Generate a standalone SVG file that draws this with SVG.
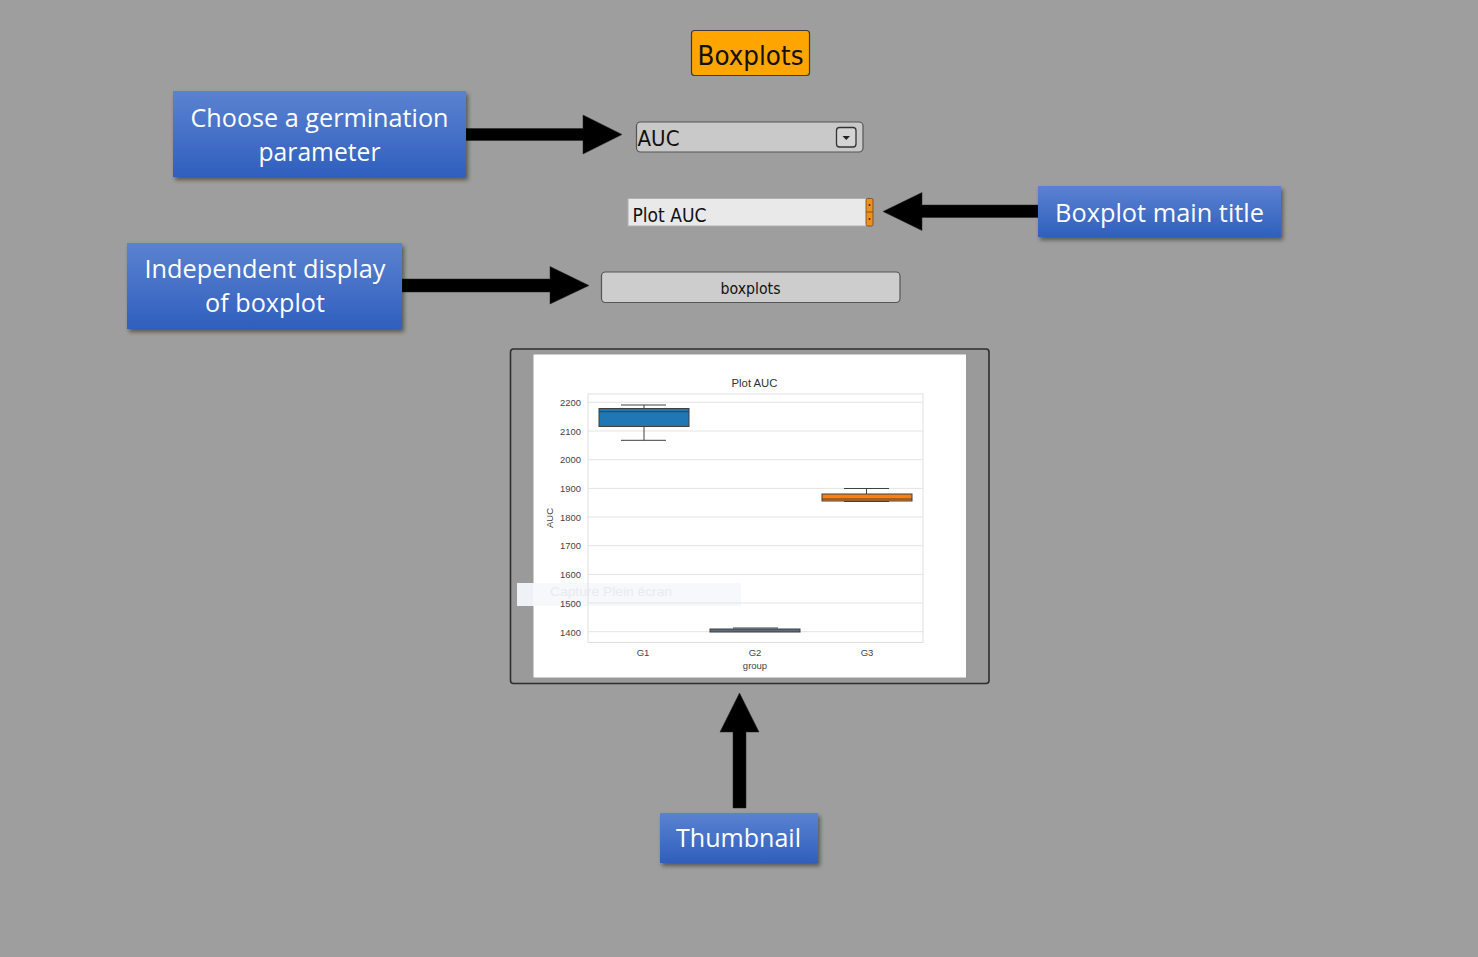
<svg xmlns="http://www.w3.org/2000/svg" width="1478" height="957" viewBox="0 0 1478 957">
<defs>
<linearGradient id="blueGrad" x1="0" y1="0" x2="0" y2="1">
<stop offset="0" stop-color="#5b82d1"/>
<stop offset="1" stop-color="#2f5fbd"/>
</linearGradient>
<filter id="shadow" x="-10%" y="-20%" width="130%" height="150%">
<feDropShadow dx="2" dy="3" stdDeviation="2" flood-color="#000" flood-opacity="0.45"/>
</filter>
</defs>
<style>
.blue{fill:url(#blueGrad);filter:url(#shadow);}
.lbl{font-family:"Open Sans","Noto Sans","DejaVu Sans",sans-serif;font-size:26px;fill:#ffffff;text-anchor:middle;}
.arrow{fill:#000000;stroke:#222;stroke-width:0.5;}
.ui{font-family:"DejaVu Sans","Liberation Sans",sans-serif;fill:#111;}
.tick{font-family:"Liberation Sans",Arial,sans-serif;font-size:9.5px;fill:#444;}
.grid{stroke:#e3e3e3;stroke-width:1;}
.box{stroke:#404040;stroke-width:1;}
.wh{stroke:#404040;stroke-width:1;fill:none;}
</style>
<rect x="0" y="0" width="1478" height="957" fill="#9e9e9e"/>

<g id="title">
<rect x="691.5" y="30.5" width="118" height="45" rx="3" fill="#ffa500" stroke="#3a3a3a" stroke-width="1.2"/>
<text class="ui" x="750.5" y="65" font-size="27" text-anchor="middle" textLength="106" lengthAdjust="spacingAndGlyphs">Boxplots</text>
</g>

<g id="dropdown">
<rect x="636.5" y="122" width="226.5" height="30" rx="4" fill="#c9c9c9" stroke="#555" stroke-width="1.2"/>
<text class="ui" x="637.5" y="146" font-size="22" textLength="42" lengthAdjust="spacingAndGlyphs">AUC</text>
<rect x="836.5" y="127.5" width="19.5" height="19.5" rx="3" fill="#d4d4d4" stroke="#333" stroke-width="1.3"/>
<polygon points="842.5,136 850,136 846.25,140" fill="#222"/>
</g>

<g id="titleField">
<rect x="628" y="198.5" width="239" height="27.5" fill="#e9e9e9" stroke="#b0b0b0" stroke-width="1"/>
<text class="ui" x="632.5" y="221.5" font-size="20" textLength="74" lengthAdjust="spacingAndGlyphs">Plot AUC</text>
<rect x="866" y="198.5" width="7" height="27.5" rx="1.5" fill="#f0901a" stroke="#6a4a1a" stroke-width="0.8"/>
<line x1="866" y1="212" x2="873" y2="212" stroke="#6a4a1a" stroke-width="0.8"/>
<circle cx="869.5" cy="205" r="1" fill="#333"/>
<circle cx="869.5" cy="219" r="1" fill="#333"/>
</g>

<g id="boxplotsButton">
<rect x="601.5" y="272" width="298.5" height="30.5" rx="4" fill="#cdcdcd" stroke="#555" stroke-width="1.2"/>
<text class="ui" x="750.5" y="293.5" font-size="15" fill="#222" text-anchor="middle" textLength="60" lengthAdjust="spacingAndGlyphs">boxplots</text>
</g>

<g id="thumbnail">
<rect x="510.5" y="349" width="478.5" height="334.5" rx="3" fill="#9a9a9a" stroke="#2e2e2e" stroke-width="1.6"/>
<rect x="533.5" y="354.5" width="432.5" height="323" fill="#ffffff"/>
<rect x="517" y="583" width="224" height="23" fill="#f6f8fb"/>
<rect x="517" y="583" width="16" height="23" fill="#eef1f6"/>
<text x="550" y="596" font-family="Liberation Sans,Arial,sans-serif" font-size="12.5" fill="#e6ebf2" textLength="122" lengthAdjust="spacingAndGlyphs">Capture Plein écran</text>
<text x="754.5" y="387" font-family="Liberation Sans,Arial,sans-serif" font-size="10.5" fill="#333" text-anchor="middle" textLength="46" lengthAdjust="spacingAndGlyphs">Plot AUC</text>
<rect x="588" y="394" width="335" height="248.5" fill="none" stroke="#e0e0e0" stroke-width="1"/>
<line class="grid" x1="588" y1="402.3" x2="923" y2="402.3"/>
<line class="grid" x1="588" y1="431" x2="923" y2="431"/>
<line class="grid" x1="588" y1="459.7" x2="923" y2="459.7"/>
<line class="grid" x1="588" y1="488.4" x2="923" y2="488.4"/>
<line class="grid" x1="588" y1="517" x2="923" y2="517"/>
<line class="grid" x1="588" y1="545.7" x2="923" y2="545.7"/>
<line class="grid" x1="588" y1="574.4" x2="923" y2="574.4"/>
<line class="grid" x1="588" y1="603" x2="923" y2="603"/>
<line class="grid" x1="588" y1="631.7" x2="923" y2="631.7"/>
<g text-anchor="end">
<text class="tick" x="581" y="405.5" textLength="21" lengthAdjust="spacingAndGlyphs">2200</text>
<text class="tick" x="581" y="434.5" textLength="21" lengthAdjust="spacingAndGlyphs">2100</text>
<text class="tick" x="581" y="463" textLength="21" lengthAdjust="spacingAndGlyphs">2000</text>
<text class="tick" x="581" y="492" textLength="21" lengthAdjust="spacingAndGlyphs">1900</text>
<text class="tick" x="581" y="520.5" textLength="21" lengthAdjust="spacingAndGlyphs">1800</text>
<text class="tick" x="581" y="549" textLength="21" lengthAdjust="spacingAndGlyphs">1700</text>
<text class="tick" x="581" y="578" textLength="21" lengthAdjust="spacingAndGlyphs">1600</text>
<text class="tick" x="581" y="606.5" textLength="21" lengthAdjust="spacingAndGlyphs">1500</text>
<text class="tick" x="581" y="635.5" textLength="21" lengthAdjust="spacingAndGlyphs">1400</text>
</g>
<text class="tick" transform="translate(552.5,518) rotate(-90)" text-anchor="middle">AUC</text>
<text class="tick" x="643" y="656" text-anchor="middle">G1</text>
<text class="tick" x="755" y="656" text-anchor="middle">G2</text>
<text class="tick" x="867" y="656" text-anchor="middle">G3</text>
<text class="tick" x="755" y="669" text-anchor="middle">group</text>
<!-- G1 -->
<line class="wh" x1="644" y1="405" x2="644" y2="408.5"/>
<line class="wh" x1="644" y1="426.5" x2="644" y2="440.3"/>
<line class="wh" x1="621" y1="405" x2="666" y2="405"/>
<line class="wh" x1="621" y1="440.3" x2="666" y2="440.3"/>
<rect class="box" x="599" y="408.5" width="90" height="18" fill="#1f77b4"/>
<line class="wh" x1="599" y1="411.7" x2="689" y2="411.7"/>
<!-- G2 -->
<line class="wh" x1="733" y1="628" x2="778" y2="628"/>
<rect class="box" x="710" y="629" width="90" height="3" fill="#5a6b84"/>
<!-- G3 -->
<line class="wh" x1="866.5" y1="488.5" x2="866.5" y2="494"/>
<line class="wh" x1="844" y1="488.5" x2="889" y2="488.5"/>
<line class="wh" x1="844" y1="501.5" x2="889" y2="501.5"/>
<rect class="box" x="822" y="494" width="90" height="7" fill="#ff7f0e"/>
<line class="wh" x1="822" y1="499" x2="912" y2="499"/>
</g>

<g id="connectors">
<polygon class="arrow" points="466,128.5 583,128.5 583,115 622,134.5 583,154 583,140.5 466,140.5"/>
<polygon class="arrow" points="1038,205 922,205 922,192.5 883,211.5 922,230.5 922,217.5 1038,217.5"/>
<polygon class="arrow" points="402,279 550,279 550,266.5 589,285.5 550,304 550,292 402,292"/>
<polygon class="arrow" points="733,808 733,732 720,732 739.5,693 759,732 746,732 746,808"/>
</g>

<g id="chooseParameter">
<rect class="blue" x="173" y="91" width="293" height="86"/>
<text class="lbl" x="319.5" y="127" textLength="258" lengthAdjust="spacingAndGlyphs">Choose a germination</text>
<text class="lbl" x="319.5" y="161" textLength="122" lengthAdjust="spacingAndGlyphs">parameter</text>
</g>

<g id="independentDisplay">
<rect class="blue" x="127" y="243" width="275" height="86"/>
<text class="lbl" x="265" y="278" textLength="241" lengthAdjust="spacingAndGlyphs">Independent display</text>
<text class="lbl" x="265" y="312" textLength="120" lengthAdjust="spacingAndGlyphs">of boxplot</text>
</g>

<g id="mainTitle">
<rect class="blue" x="1038" y="186" width="243" height="51"/>
<text class="lbl" x="1159.5" y="222" textLength="209" lengthAdjust="spacingAndGlyphs">Boxplot main title</text>
</g>

<g id="thumbnailLabel">
<rect class="blue" x="660" y="813" width="158" height="50"/>
<text class="lbl" x="738.5" y="847" textLength="125" lengthAdjust="spacingAndGlyphs">Thumbnail</text>
</g>
</svg>
